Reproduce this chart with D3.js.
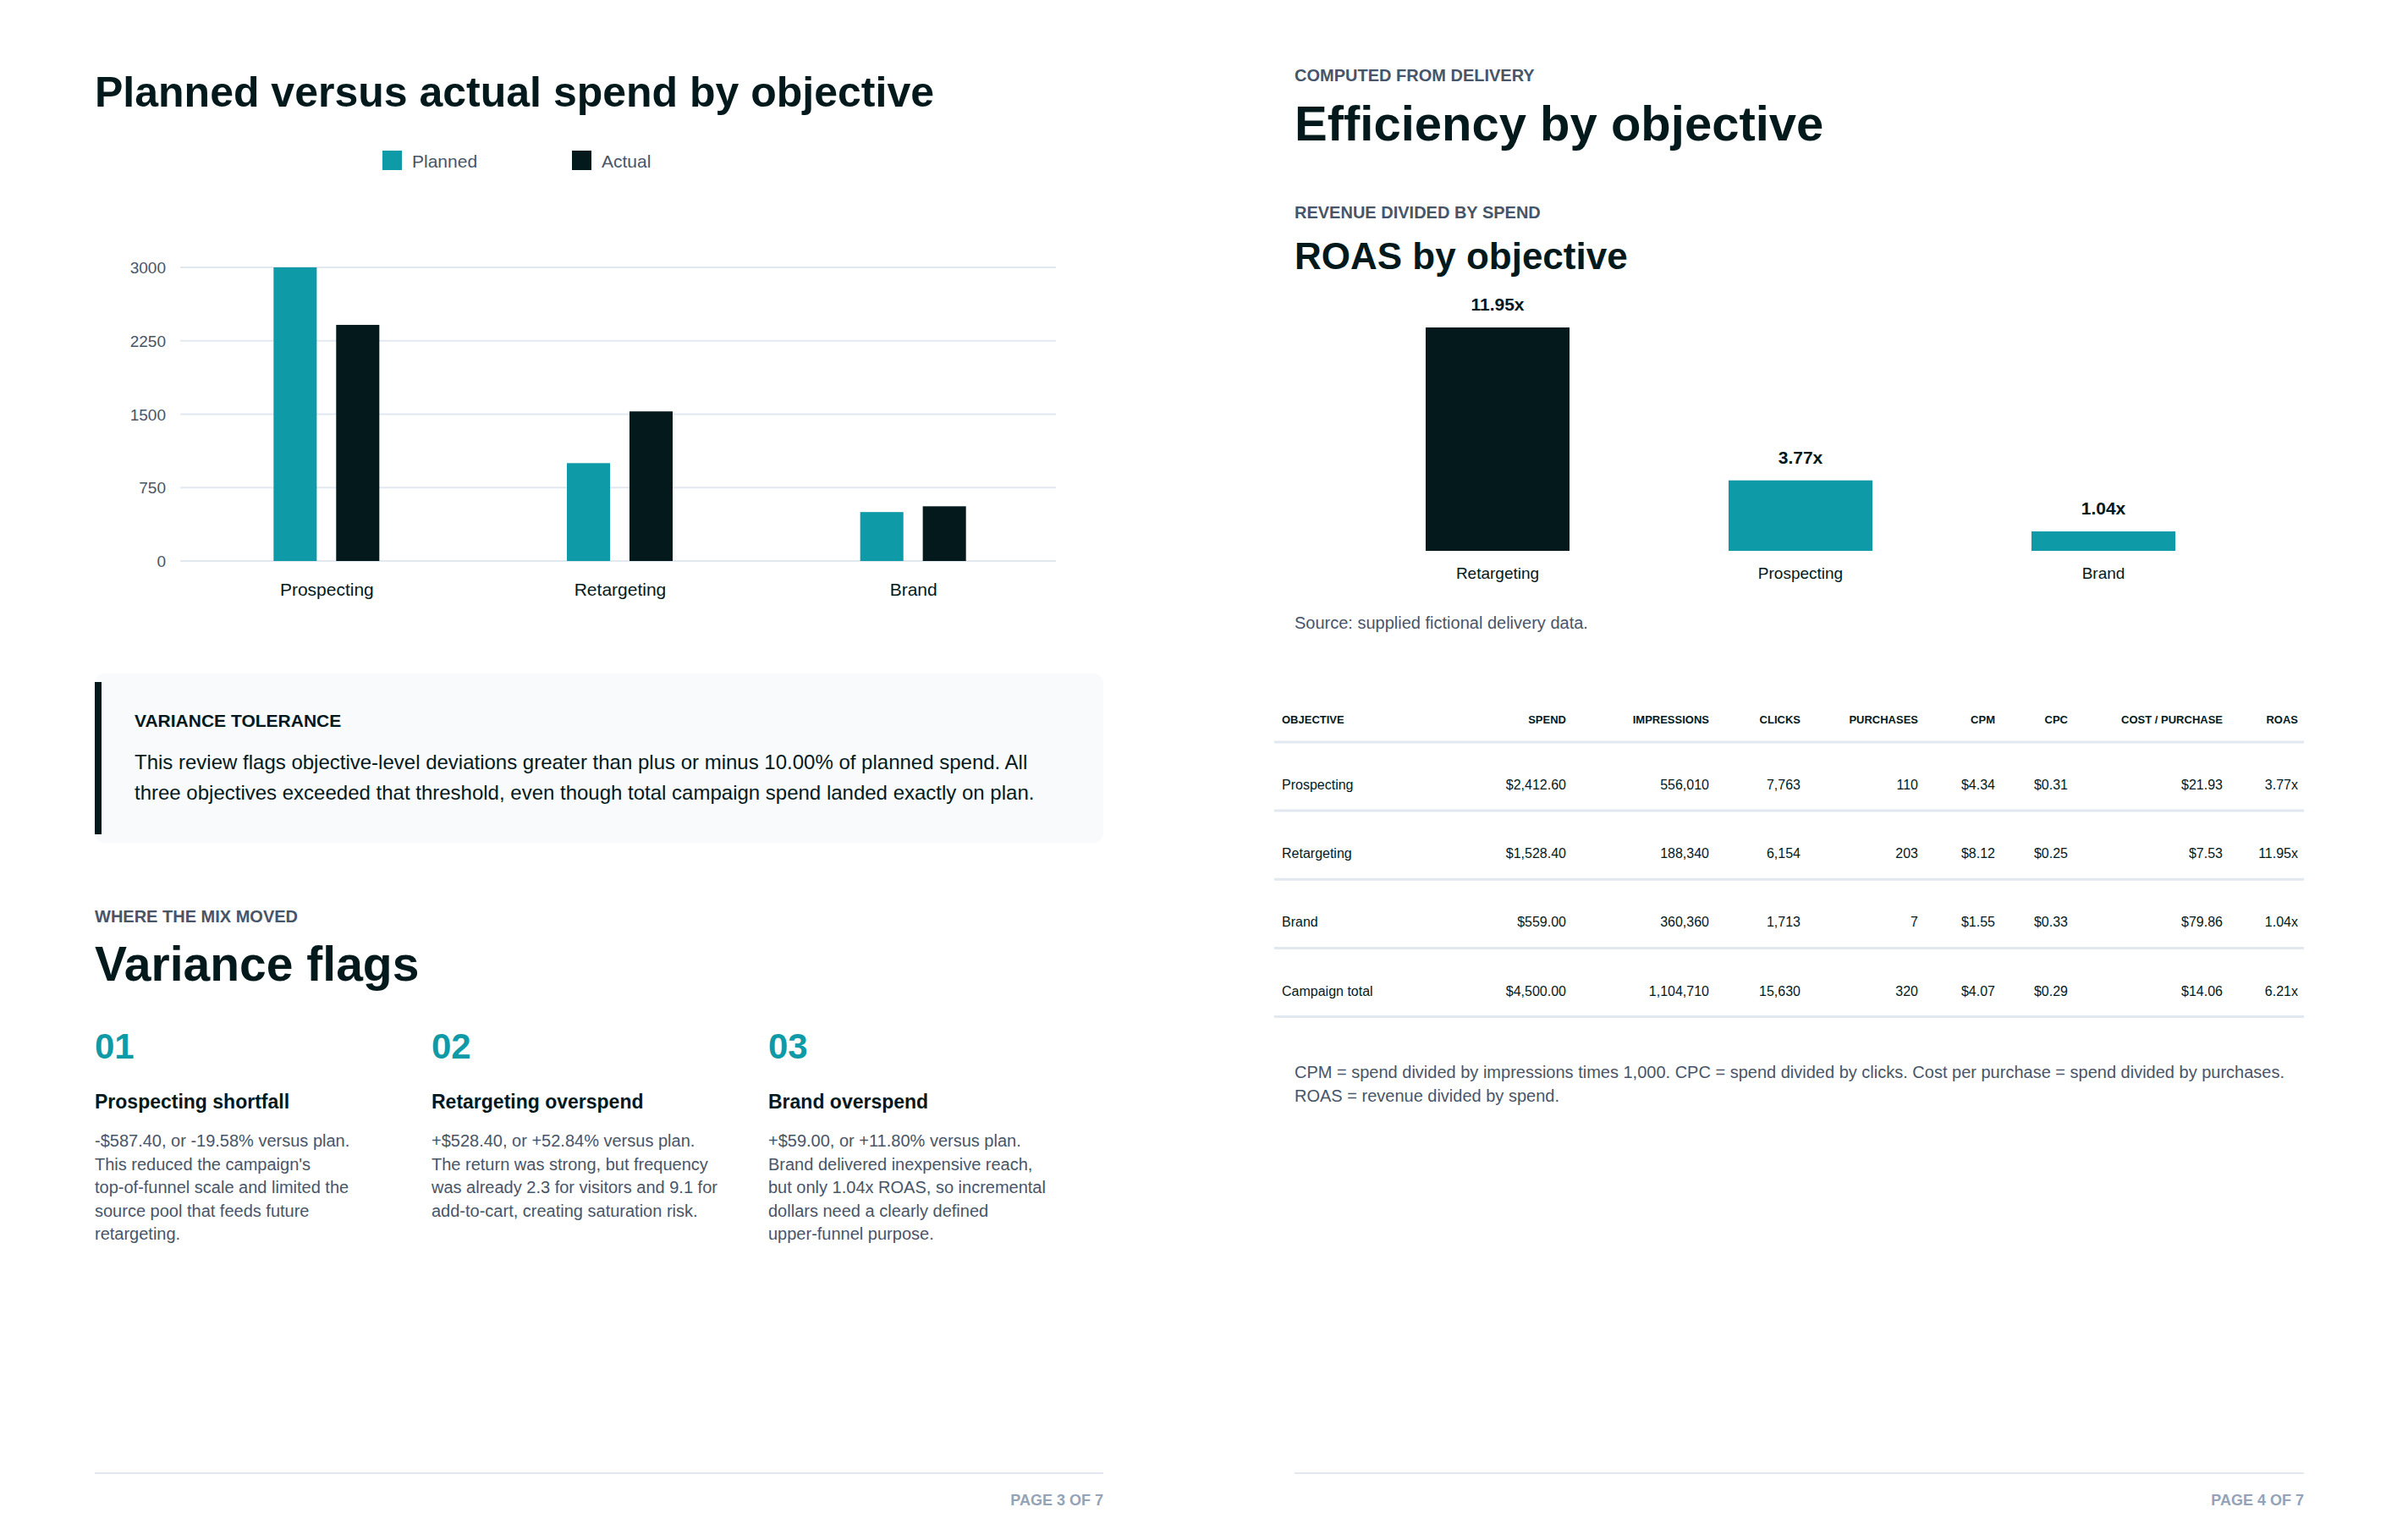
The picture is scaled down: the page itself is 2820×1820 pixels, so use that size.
<!DOCTYPE html>
<html>
<head>
<meta charset="utf-8">
<script src="https://cdn.jsdelivr.net/npm/d3@7"></script>
<style>
  body { margin: 0; background: #fff; }
  svg text { font-family: "Liberation Sans", Arial, sans-serif; }
</style>
</head>
<body>
<svg id="page" width="2820" height="1820"></svg>
<script>
// spend chart data
var objectives = ["Prospecting", "Retargeting", "Brand"];
var planned = [3000, 1000, 500];
var actual = [2412.6, 1528.4, 559];
var spendTicks = [0, 750, 1500, 2250, 3000];

// roas chart data
var roasObjectives = ["Retargeting", "Prospecting", "Brand"];
var roasValues = [11.95, 3.77, 1.04];

// table
var tableHeaders = ["OBJECTIVE", "SPEND", "IMPRESSIONS", "CLICKS", "PURCHASES", "CPM", "CPC", "COST / PURCHASE", "ROAS"];
var tableRows = [
  ["Prospecting", "$2,412.60", "556,010", "7,763", "110", "$4.34", "$0.31", "$21.93", "3.77x"],
  ["Retargeting", "$1,528.40", "188,340", "6,154", "203", "$8.12", "$0.25", "$7.53", "11.95x"],
  ["Brand", "$559.00", "360,360", "1,713", "7", "$1.55", "$0.33", "$79.86", "1.04x"],
  ["Campaign total", "$4,500.00", "1,104,710", "15,630", "320", "$4.07", "$0.29", "$14.06", "6.21x"]
];

var flags = [
  {num: "01", title: "Prospecting shortfall", lines: ["-$587.40, or -19.58% versus plan.", "This reduced the campaign's", "top-of-funnel scale and limited the", "source pool that feeds future", "retargeting."]},
  {num: "02", title: "Retargeting overspend", lines: ["+$528.40, or +52.84% versus plan.", "The return was strong, but frequency", "was already 2.3 for visitors and 9.1 for", "add-to-cart, creating saturation risk."]},
  {num: "03", title: "Brand overspend", lines: ["+$59.00, or +11.80% versus plan.", "Brand delivered inexpensive reach,", "but only 1.04x ROAS, so incremental", "dollars need a clearly defined", "upper-funnel purpose."]}
];

var teal = "#0e9aa7", dark = "#03191b", grey = "#475569", light = "#94a3b8";
var svg = d3.select("#page");

function txt(x, y, s, size, opts) {
  opts = opts || {};
  return svg.append("text").attr("x", x).attr("y", y).text(s)
    .attr("font-size", size)
    .attr("font-weight", opts.bold ? "bold" : "normal")
    .attr("fill", opts.fill || dark)
    .attr("text-anchor", opts.anchor || "start");
}

// ---- left page ----
txt(112, 126, "Planned versus actual spend by objective", 50, {bold: true});

var legend = [{k: "Planned", c: teal, x: 452}, {k: "Actual", c: dark, x: 676}];
legend.forEach(function(l) {
  svg.append("rect").attr("x", l.x).attr("y", 178).attr("width", 23).attr("height", 23).attr("fill", l.c);
  txt(l.x + 35, 198, l.k, 21, {fill: grey});
});

var x0 = d3.scaleBand().domain(objectives).range([213, 1253]);
var x1 = d3.scaleBand().domain(["p", "a"]).range([0, 125]).paddingInner(0.31);
var y = d3.scaleLinear().domain([0, 3000]).range([663, 316]);

var g = svg.append("g");
spendTicks.forEach(function(t) {
  g.append("line").attr("x1", 213).attr("x2", 1248).attr("y1", y(t)).attr("y2", y(t))
    .attr("stroke", "#e2e8f0").attr("stroke-width", 2);
  txt(196, y(t) + 7, t, 19, {fill: grey, anchor: "end"});
});
objectives.forEach(function(o, i) {
  var cx = x0(o) + x0.bandwidth() / 2;
  var gx = cx - 63;
  [["p", planned[i], teal], ["a", actual[i], dark]].forEach(function(d) {
    g.append("rect").attr("x", gx + x1(d[0])).attr("width", x1.bandwidth())
      .attr("y", y(d[1])).attr("height", y(0) - y(d[1])).attr("fill", d[2]);
  });
  txt(cx, 704, o, 21, {anchor: "middle"});
});

// variance box
svg.append("rect").attr("x", 112).attr("y", 796).attr("width", 1192).attr("height", 200).attr("rx", 12).attr("fill", "#f8fafc");
svg.append("rect").attr("x", 112).attr("y", 806).attr("width", 8).attr("height", 180).attr("fill", dark);
txt(159, 859, "VARIANCE TOLERANCE", 21, {bold: true});
txt(159, 909, "This review flags objective-level deviations greater than plus or minus 10.00% of planned spend. All", 24);
txt(159, 945, "three objectives exceeded that threshold, even though total campaign spend landed exactly on plan.", 24);

txt(112, 1090, "WHERE THE MIX MOVED", 20, {bold: true, fill: grey});
txt(112, 1159, "Variance flags", 57, {bold: true});

flags.forEach(function(f, i) {
  var fx = 112 + i * 398;
  txt(fx, 1251, f.num, 42, {bold: true, fill: teal});
  txt(fx, 1310, f.title, 23, {bold: true});
  f.lines.forEach(function(l, j) {
    txt(fx, 1355 + j * 27.5, l, 20, {fill: grey});
  });
});

// ---- right page ----
txt(1530, 96, "COMPUTED FROM DELIVERY", 20, {bold: true, fill: grey});
txt(1530, 166, "Efficiency by objective", 58, {bold: true});
txt(1530, 258, "REVENUE DIVIDED BY SPEND", 20, {bold: true, fill: grey});
txt(1530, 318, "ROAS by objective", 44, {bold: true});

var rx = d3.scaleBand().domain(roasObjectives).range([1591, 2665]).paddingInner(0.525).paddingOuter(0.2625);
var ry = d3.scaleLinear().domain([0, 11.95]).range([651, 387]);
roasObjectives.forEach(function(o, i) {
  var v = roasValues[i];
  svg.append("rect").attr("x", rx(o)).attr("width", rx.bandwidth())
    .attr("y", ry(v)).attr("height", ry(0) - ry(v)).attr("fill", i === 0 ? dark : teal);
  var cx = rx(o) + rx.bandwidth() / 2;
  txt(cx, ry(v) - 20, v.toFixed(2) + "x", 21, {bold: true, anchor: "middle"});
  txt(cx, 684, o, 19, {anchor: "middle"});
});
txt(1530, 743, "Source: supplied fictional delivery data.", 20, {fill: grey});

// table
var colX = [1515, 1851, 2020, 2128, 2267, 2358, 2444, 2627, 2716];
tableHeaders.forEach(function(h, i) {
  txt(colX[i], 855, h, 13, {bold: true, anchor: i === 0 ? "start" : "end"});
});
svg.append("line").attr("x1", 1506).attr("x2", 2723).attr("y1", 877).attr("y2", 877).attr("stroke", "#e2e8f0").attr("stroke-width", 3);
tableRows.forEach(function(r, ri) {
  var ty = 933 + ri * 81.2;
  r.forEach(function(c, ci) {
    txt(colX[ci], ty, c, 16, {anchor: ci === 0 ? "start" : "end"});
  });
  var ly = 958 + ri * 81.2;
  svg.append("line").attr("x1", 1506).attr("x2", 2723).attr("y1", ly).attr("y2", ly).attr("stroke", "#e2e8f0").attr("stroke-width", 3);
});
txt(1530, 1274, "CPM = spend divided by impressions times 1,000. CPC = spend divided by clicks. Cost per purchase = spend divided by purchases.", 20, {fill: grey});
txt(1530, 1302, "ROAS = revenue divided by spend.", 20, {fill: grey});

// footers
[[112, 1304, "PAGE 3 OF 7"], [1530, 2723, "PAGE 4 OF 7"]].forEach(function(f) {
  svg.append("line").attr("x1", f[0]).attr("x2", f[1]).attr("y1", 1741).attr("y2", 1741).attr("stroke", "#e2e8f0").attr("stroke-width", 2);
  txt(f[1], 1779, f[2], 18, {bold: true, fill: light, anchor: "end"});
});
</script>
</body>
</html>
